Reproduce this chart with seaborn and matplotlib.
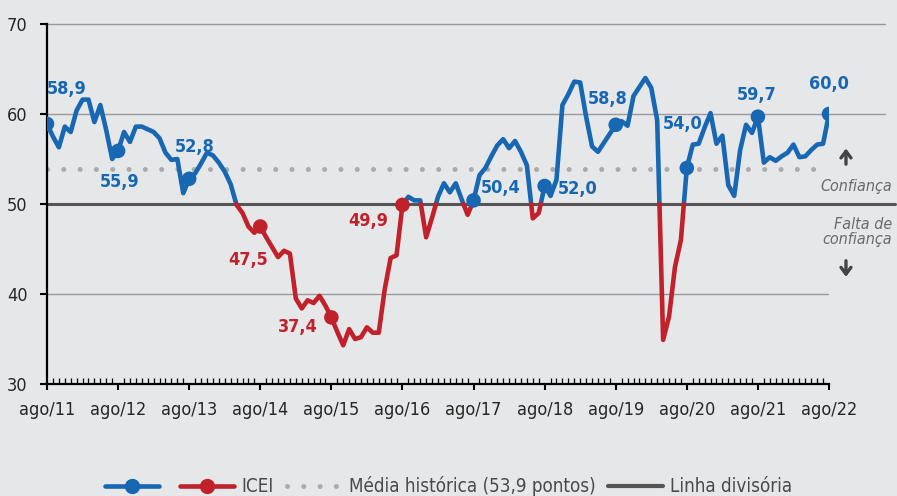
import numpy as np
import pandas as pd
import matplotlib
matplotlib.use('Agg')
import matplotlib.pyplot as plt
from matplotlib.lines import Line2D
from matplotlib.ticker import MultipleLocator
import seaborn as sns

# ICEI monthly, ago/11 .. ago/22
icei = [58.9, 57.5, 56.3, 58.6, 58.0, 60.4, 61.6, 61.6, 59.1, 61.0, 58.2, 55.0,
        55.9, 58.0, 56.9, 58.6, 58.6, 58.3, 58.0, 57.3, 55.7, 54.9, 55.0, 51.2,
        52.8, 53.4, 54.5, 55.7, 55.4, 54.6, 53.6, 52.2, 49.9, 49.0, 47.5, 46.8,
        47.5, 46.3, 45.2, 44.1, 44.8, 44.5, 39.5, 38.4, 39.3, 39.0, 39.8, 38.7,
        37.4, 35.8, 34.3, 36.1, 35.0, 35.2, 36.3, 35.7, 35.7, 40.5, 44.0, 44.3,
        49.9, 50.8, 50.4, 50.4, 46.3, 48.5, 50.8, 52.3, 51.3, 52.3, 50.5, 48.8,
        50.4, 53.2, 54.0, 55.3, 56.5, 57.2, 56.2, 57.0, 55.8, 54.3, 48.4, 49.0,
        52.0, 50.9, 52.7, 61.0, 62.2, 63.6, 63.5, 59.7, 56.4, 55.8, 56.8, 57.8,
        58.8, 59.2, 58.7, 62.0, 63.0, 64.0, 62.9, 59.3, 34.9, 37.5, 43.0, 46.0,
        54.0, 56.6, 56.7, 58.5, 60.1, 56.7, 57.6, 52.1, 50.9, 56.0, 58.8, 57.9,
        59.7, 54.6, 55.2, 54.8, 55.3, 55.7, 56.6, 55.2, 55.3, 56.0, 56.6, 56.7,
        60.0]
year_labels = ['ago/11', 'ago/12', 'ago/13', 'ago/14', 'ago/15', 'ago/16',
               'ago/17', 'ago/18', 'ago/19', 'ago/20', 'ago/21', 'ago/22']
media_historica = 53.9
linha_divisoria = 50

# label offsets (pixels) for the yearly markers
label_offsets = [(20, 35), (2, -31), (6, 32), (-12, -33), (-34, -10), (-34, -16),
                 (27, 12), (33, -3), (-8, 26), (-4, 44), (-1, 22), (0, 30)]

BLUE = '#1767B3'
RED = '#C1212B'
BG = '#E6E7E9'
DARK = '#555555'

sns.set_theme(style='white', rc={'axes.facecolor': BG, 'figure.facecolor': BG})
plt.rcParams['font.family'] = ['DejaVu Sans']
plt.rcParams['font.stretch'] = 'condensed'

# split the series where it crosses the dividing line
y = np.array(icei)
x = np.arange(len(y))
rows = []
seg = 0
side = 'up' if y[0] >= linha_divisoria else 'down'
rows.append((x[0], y[0], seg, side))
for k in range(len(y) - 1):
    if (y[k] - linha_divisoria) * (y[k + 1] - linha_divisoria) < 0:
        t = (linha_divisoria - y[k]) / (y[k + 1] - y[k])
        xc = x[k] + t
        rows.append((xc, linha_divisoria, seg, side))
        seg += 1
        side = 'up' if y[k + 1] >= linha_divisoria else 'down'
        rows.append((xc, linha_divisoria, seg, side))
    rows.append((x[k + 1], y[k + 1], seg, side))
df = pd.DataFrame(rows, columns=['x', 'y', 'seg', 'side'])

fig = plt.figure(figsize=(8.97, 4.96), dpi=100)
ax = fig.add_axes([0.0524, 0.2258, 0.8718, 0.7258])
ax.set_xlim(0, 132)
ax.set_ylim(30, 70)

# grid / reference lines
ax.plot([0, 1.072], [0.75, 0.75], transform=ax.transAxes, color='#9A9A9A', lw=1.0, clip_on=False, zorder=1)
ax.plot([0, 1.072], [1.0, 1.0], transform=ax.transAxes, color='#9A9A9A', lw=1.0, clip_on=False, zorder=1)
ax.axhline(40, color='#9A9A9A', lw=1.0, zorder=1)
ax.plot([0, 1.085], [0.5, 0.5], transform=ax.transAxes, color=DARK, lw=2.2, clip_on=False, zorder=2)
ax.axhline(media_historica, color='#ABABAB', lw=3.6, ls=(0, (0.01, 3.25)),
           dash_capstyle='round', zorder=2)

sns.lineplot(data=df, x='x', y='y', units='seg', estimator=None, hue='side',
             palette={'up': BLUE, 'down': RED}, sort=False, linewidth=3.3,
             legend=False, ax=ax, zorder=3)

yr_idx = np.arange(0, len(y), 12)
pts = pd.DataFrame({'x': yr_idx, 'y': y[yr_idx]})
pts['side'] = np.where(pts['y'] >= linha_divisoria, 'up', 'down')
sns.scatterplot(data=pts, x='x', y='y', hue='side', palette={'up': BLUE, 'down': RED},
                s=110, edgecolor='none', legend=False, ax=ax, zorder=4)

for (xi, yi, sd), (dx, dy) in zip(pts[['x', 'y', 'side']].values, label_offsets):
    ax.annotate(f'{yi:.1f}'.replace('.', ','), (xi, yi), xytext=(dx, dy),
                textcoords='offset pixels', ha='center', va='center',
                fontsize=13, fontweight='bold', color=BLUE if sd == 'up' else RED,
                zorder=5)

# axes styling
sns.despine(ax=ax)
for s in ['left', 'bottom']:
    ax.spines[s].set_color('black')
    ax.spines[s].set_linewidth(1.6)
ax.set_xticks(yr_idx)
ax.set_xticklabels(year_labels)
ax.xaxis.set_minor_locator(MultipleLocator(1))
ax.tick_params(axis='x', which='major', direction='out', length=4, width=1.5,
               color='black', labelsize=13, pad=8, bottom=True)
ax.tick_params(axis='x', which='minor', direction='in', length=4, width=0.9,
               color='black', bottom=True)
ax.set_yticks([30, 40, 50, 60, 70])
ax.tick_params(axis='y', direction='out', length=5, width=1.5, color='black',
               labelsize=13, pad=9, left=True)
ax.set_xlabel('')
ax.set_ylabel('')

# side notes
ax.text(1.081, 0.55, 'Confiança', transform=ax.transAxes, ha='right', va='center',
        fontsize=11.5, style='italic', color='#6A6A6A')
ax.text(1.081, 0.422, 'Falta de\nconfiança', transform=ax.transAxes, ha='right',
        va='center', fontsize=11.5, style='italic', color='#6A6A6A', linespacing=1.0)
ax.annotate('', xy=(1.0217, 0.662), xytext=(1.0217, 0.603), xycoords='axes fraction',
            arrowprops=dict(arrowstyle='->,head_width=0.3,head_length=0.4', lw=2.4, color='#444444'))
ax.annotate('', xy=(1.0217, 0.29), xytext=(1.0217, 0.35), xycoords='axes fraction',
            arrowprops=dict(arrowstyle='->,head_width=0.3,head_length=0.4', lw=2.4, color='#444444'))

# legend
handles = [
    Line2D([], [], color=BLUE, lw=3.3, marker='o', ms=10),
    Line2D([], [], color=RED, lw=3.3, marker='o', ms=10),
    Line2D([], [], color='#ABABAB', lw=3.6, ls=(0, (0.01, 3.25)), dash_capstyle='round'),
    Line2D([], [], color=DARK, lw=3.0),
]
labels = ['', 'ICEI', 'Média histórica (53,9 pontos)', 'Linha divisória']
fig.legend(handles, labels, loc='center', bbox_to_anchor=(0.5, 0.02), ncol=4,
           frameon=False, fontsize=13.5, handlelength=2.9, handletextpad=0.4,
           columnspacing=0.7, labelcolor='#4A4A4A')

plt.savefig('out.png', dpi=100, facecolor=BG)
